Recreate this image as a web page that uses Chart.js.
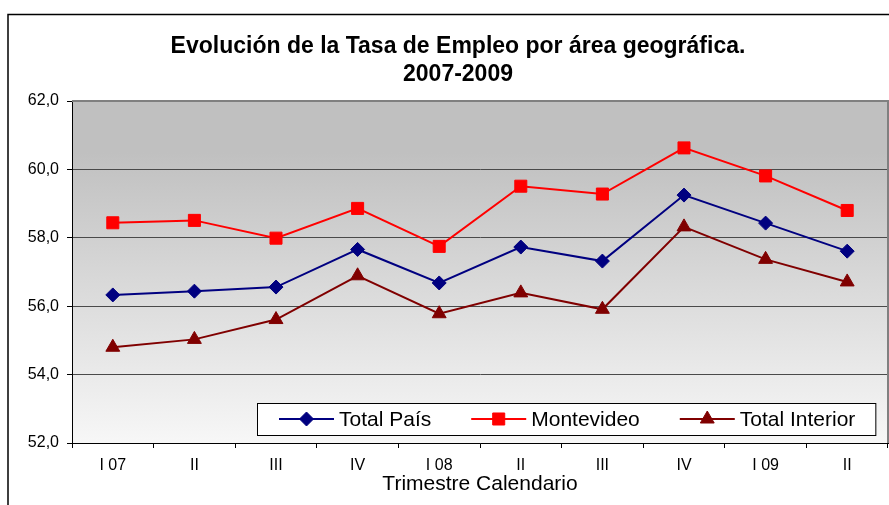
<!DOCTYPE html>
<html lang="es">
<head>
<meta charset="utf-8">
<title>Evolución de la Tasa de Empleo</title>
<script src="https://cdn.jsdelivr.net/npm/chart.js@4.4.1/dist/chart.umd.min.js"></script>
<style>
  html, body { margin: 0; padding: 0; background: #fff; }
  #wrap { width: 889px; height: 505px; }
</style>
</head>
<body>
<div id="wrap"><canvas id="empleoChart" width="889" height="505"></canvas></div>
<script>
// datos (tasa de empleo, %)
const trimestres = ["I 07", "II", "III", "IV", "I 08", "II", "III", "IV", "I 09", "II"];
const totalPais = [56.33, 56.44, 56.56, 57.66, 56.68, 57.73, 57.32, 59.25, 58.43, 57.61];
const montevideo = [58.44, 58.51, 57.99, 58.86, 57.75, 59.51, 59.28, 60.63, 59.81, 58.80];
const totalInterior = [54.80, 55.03, 55.61, 56.89, 55.78, 56.39, 55.91, 58.32, 57.37, 56.71];

const FUENTE = 'Arial, "Liberation Sans", sans-serif';

// fondo, marco y degradado del area de trazado
const marcoPlugin = {
  id: "marco",
  beforeDraw(chart) {
    const { ctx, chartArea: a } = chart;
    ctx.save();
    ctx.fillStyle = "#fff";
    ctx.fillRect(0, 0, chart.width, chart.height);
    ctx.strokeStyle = "#000";
    ctx.lineWidth = 1.5;
    ctx.strokeRect(8, 14.5, chart.width + 20, chart.height + 20);

    const g = ctx.createLinearGradient(0, a.top, 0, a.bottom);
    g.addColorStop(0, "#c0c0c0");
    g.addColorStop(0.15, "#c0c0c0");
    g.addColorStop(1, "#f7f7f7");
    ctx.fillStyle = g;
    ctx.fillRect(a.left, a.top, a.width, a.height);
    ctx.restore();
  },
  beforeDatasetsDraw(chart) {
    const { ctx, chartArea: a } = chart;
    ctx.save();
    ctx.strokeStyle = "#808080";
    ctx.lineWidth = 2;
    ctx.beginPath();
    ctx.moveTo(a.left, a.top);
    ctx.lineTo(a.right, a.top);
    ctx.lineTo(a.right, a.bottom);
    ctx.stroke();
    ctx.restore();
  }
};

// leyenda dentro del area de trazado, abajo a la derecha
const leyendaPlugin = {
  id: "leyenda",
  afterDraw(chart) {
    const { ctx, chartArea: a } = chart;
    const sets = chart.data.datasets;
    ctx.save();
    ctx.font = "21px " + FUENTE;
    const lineW = 55, gapTxt = 5, gapEntry = 40, padL = 22, padR = 20, h = 32;
    const widths = sets.map(d => ctx.measureText(d.label).width);
    const total = padL + padR + widths.reduce((s, w) => s + lineW + gapTxt + w, 0) + gapEntry * (sets.length - 1);
    const right = a.right - 13;
    const bottom = a.bottom - 8;
    const left = Math.round(right - total);
    const top = bottom - h;
    const cy = top + h / 2;

    ctx.fillStyle = "#fff";
    ctx.fillRect(left, top, total, h);
    ctx.strokeStyle = "#000";
    ctx.lineWidth = 1;
    ctx.strokeRect(left + 0.5, top + 0.5, total, h);

    let x = left + padL;
    sets.forEach((d, i) => {
      ctx.strokeStyle = d.borderColor;
      ctx.lineWidth = 2;
      ctx.beginPath();
      ctx.moveTo(x, cy);
      ctx.lineTo(x + lineW, cy);
      ctx.stroke();

      ctx.fillStyle = d.pointBackgroundColor;
      ctx.strokeStyle = d.pointBorderColor;
      ctx.lineWidth = 1;
      Chart.helpers.drawPoint(ctx, {
        pointStyle: d.pointStyle,
        radius: d.pointRadius,
        borderWidth: 1,
        rotation: 0
      }, x + lineW / 2, cy);

      ctx.fillStyle = "#000";
      ctx.textAlign = "left";
      ctx.textBaseline = "middle";
      ctx.fillText(d.label, x + lineW + gapTxt, cy + 1);
      x += lineW + gapTxt + widths[i] + gapEntry;
    });
    ctx.restore();
  }
};

function serie(label, data, color, estilo, radio) {
  return {
    label: label,
    data: data,
    borderColor: color,
    backgroundColor: color,
    pointBackgroundColor: color,
    pointBorderColor: color,
    pointStyle: estilo,
    pointRadius: radio,
    pointBorderWidth: 1,
    borderWidth: 2,
    tension: 0,
    fill: false
  };
}

new Chart(document.getElementById("empleoChart").getContext("2d"), {
  type: "line",
  data: {
    labels: trimestres,
    datasets: [
      serie("Total País", totalPais, "#000080", "rectRot", 7),
      serie("Montevideo", montevideo, "#ff0000", "rect", 8.5),
      serie("Total Interior", totalInterior, "#800000", "triangle", 8)
    ]
  },
  options: {
    responsive: false,
    devicePixelRatio: 1,
    animation: false,
    layout: { autoPadding: false, padding: { left: 28, right: 1, top: 0, bottom: 10 } },
    plugins: {
      legend: { display: false },
      tooltip: { enabled: false },
      title: {
        display: true,
        text: ["Evolución de la Tasa de Empleo por área geográfica.", "2007-2009"],
        color: "#000",
        font: { family: FUENTE, size: 23, weight: "bold", lineHeight: 1.24 },
        padding: { top: 32, bottom: 12 }
      }
    },
    scales: {
      x: {
        offset: true,
        grid: { offset: true, drawOnChartArea: false, tickLength: 5, tickColor: "#000" },
        border: { color: "#000", width: 1 },
        ticks: {
          color: "#000",
          font: { family: FUENTE, size: 16, lineHeight: 1 },
          padding: 10,
          maxRotation: 0,
          autoSkip: false
        },
        title: {
          display: true,
          text: "Trimestre Calendario",
          color: "#000",
          font: { family: FUENTE, size: 21, lineHeight: 1 },
          padding: { top: -10, bottom: 0 }
        },
        afterFit(scale) {
          // sin margen extra a la derecha por la ultima etiqueta
          scale.paddingLeft = 0;
          scale.paddingRight = 0;
          if (scale._margins) scale._margins.right = Math.min(scale._margins.right, 1);
        }
      },
      y: {
        min: 52,
        max: 62,
        grid: {
          color: c => (c.tick && c.tick.value === 62 ? "rgba(0,0,0,0)" : "#4a4a4a"),
          lineWidth: 1,
          tickLength: 5,
          tickColor: "#000"
        },
        border: { color: "#000", width: 1 },
        ticks: {
          stepSize: 2,
          color: "#000",
          padding: 8,
          font: { family: FUENTE, size: 16 },
          callback: v => v.toFixed(1).replace(".", ",")
        },
        afterFit(scale) {
          scale.width = 44;
        }
      }
    }
  },
  plugins: [marcoPlugin, leyendaPlugin]
});
</script>
</body>
</html>
